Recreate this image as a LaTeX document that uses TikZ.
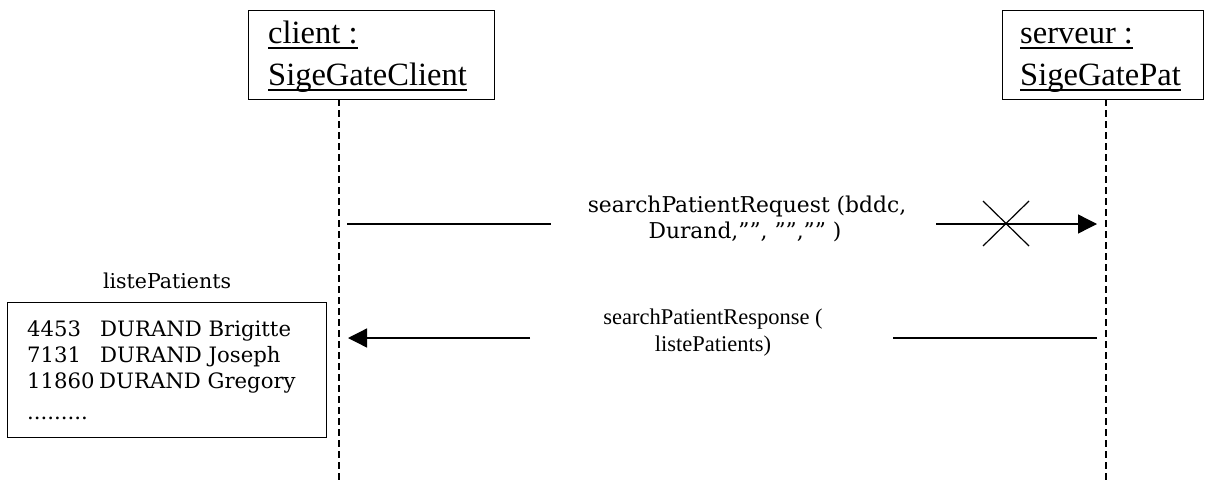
\documentclass[tikz,border=0pt]{standalone}
\usepackage{fontspec}
\setmainfont{Liberation Serif}
\newfontfamily\wideserif{DejaVu Serif}
\usetikzlibrary{arrows.meta}
% underline at a fixed distance below the baseline
\newcommand\ulword[1]{\setbox0\hbox{#1}\rlap{\rule[-5.5pt]{\wd0}{1.3pt}}\box0}
\begin{document}
\begin{tikzpicture}[x=1pt,y=-1pt,
  objbox/.style={draw, line width=1.4pt, inner sep=0pt, minimum height=89pt, anchor=north west},
  objtext/.style={anchor=base west, inner sep=0pt, font=\fontsize{32.5}{42}\selectfont},
  lifeline/.style={line width=1.2pt, dash pattern=on 7pt off 4pt},
  msg/.style={line width=1.3pt},
  msgarrow/.style={line width=1.3pt, -{Triangle[length=19pt,width=19pt]}},
  msglabel/.style={anchor=base, inner sep=0pt, align=center},
  listtext/.style={anchor=base west, inner sep=0pt, font=\wideserif\fontsize{21.2}{26}\selectfont},
]
\useasboundingbox (0,0) rectangle (1206,482);

% objects
\node[objbox, minimum width=246pt] (client) at (248,10) {};
\node[objtext] (clientA) at (268,43) {\ulword{client :}};
\node[objtext] (clientB) at (268,85) {\ulword{SigeGateClient}};

\node[objbox, minimum width=201pt] (server) at (1002,10) {};
\node[objtext] (serverA) at (1020,43) {\ulword{serveur :}};
\node[objtext] (serverB) at (1020,85) {\ulword{SigeGatePat}};

% lifelines
\coordinate (cTop) at (339,99);
\coordinate (cBot) at (339,482);
\coordinate (sTop) at (1106,99);
\coordinate (sBot) at (1106,482);
\draw[lifeline] (cTop) -- (cBot);
\draw[lifeline] (sTop) -- (sBot);

% request message
\coordinate (rqA) at (347,224);
\coordinate (rqB) at (551,224);
\coordinate (rqC) at (936,224);
\coordinate (rqD) at (1097,224);
\draw[msg] (rqA) -- (rqB);
\draw[msgarrow] (rqC) -- (rqD);
\coordinate (xA) at (983,201);
\coordinate (xB) at (1029,246);
\coordinate (xC) at (983,246);
\coordinate (xD) at (1029,201);
\draw[line width=1.2pt] (xA) -- (xB);
\draw[line width=1.2pt] (xC) -- (xD);
\node[msglabel, font=\wideserif\fontsize{21.8}{26}\selectfont] (rqL1) at (747,212) {searchPatientRequest (bddc,};
\node[msglabel, font=\wideserif\fontsize{21.8}{26}\selectfont] (rqL2) at (745,238) {Durand,””, ””,”” )};

% response message
\coordinate (rsA) at (1097,338);
\coordinate (rsB) at (893,338);
\coordinate (rsC) at (530,338);
\coordinate (rsD) at (348,338);
\draw[msg] (rsA) -- (rsB);
\draw[msgarrow] (rsC) -- (rsD);
\node[msglabel, font=\fontsize{22.5}{27}\selectfont] (rsL1) at (713,324) {searchPatientResponse (};
\node[msglabel, font=\fontsize{22.5}{27}\selectfont] (rsL2) at (713,351) {listePatients)};

% returned list
\node[msglabel, font=\wideserif\fontsize{20.5}{26}\selectfont] (lpTitle) at (167,288) {listePatients};
\node[draw, line width=1.4pt, inner sep=0pt, minimum width=319pt, minimum height=135pt, anchor=north west] (lpBox) at (7,302) {};
\node[listtext] (n1) at (27,336) {4453};
\node[listtext] (p1) at (100,336) {DURAND Brigitte};
\node[listtext] (n2) at (27,362) {7131};
\node[listtext] (p2) at (100,362) {DURAND Joseph};
\node[listtext] (n3) at (27,388) {11860};
\node[listtext] (p3) at (99,388) {DURAND Gregory};
\node[listtext] (dots) at (27,419) {.........};
\end{tikzpicture}
\end{document}
